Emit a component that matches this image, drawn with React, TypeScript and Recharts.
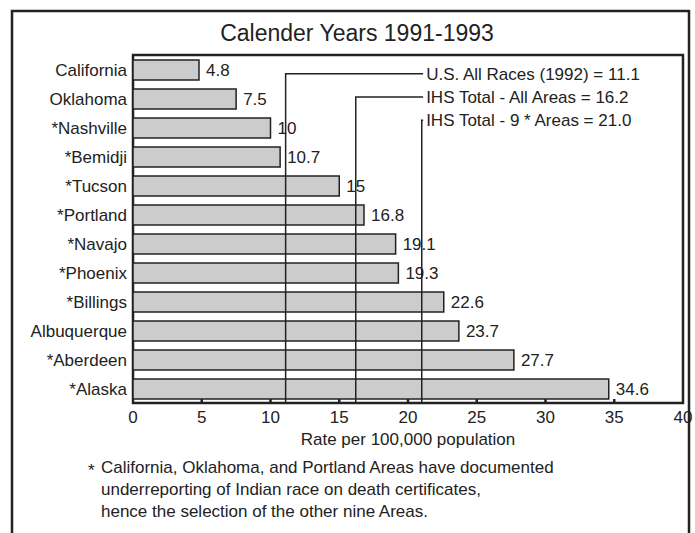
import React from 'react';
import { BarChart, Bar, XAxis, YAxis, ReferenceArea, ReferenceLine, LabelList } from 'recharts';

const areas = [
  'California', 'Oklahoma', '*Nashville', '*Bemidji', '*Tucson', '*Portland',
  '*Navajo', '*Phoenix', '*Billings', 'Albuquerque', '*Aberdeen', '*Alaska',
];
const rates = [4.8, 7.5, 10, 10.7, 15, 16.8, 19.1, 19.3, 22.6, 23.7, 27.7, 34.6];
const xTicks = [0, 5, 10, 15, 20, 25, 30, 35, 40];

// reference values and the row (from top) where each callout sits
const refLabels = ['U.S. All Races (1992) = 11.1', 'IHS Total - All Areas = 16.2', 'IHS Total - 9 * Areas = 21.0'];
const refValues = [11.1, 16.2, 21.0];
const refRows = [0.65, 1.45, 2.25];
const calloutEnd = 21.1;

const footnote = [
  'California, Oklahoma, and Portland Areas have documented',
  'underreporting of Indian race on death certificates,',
  'hence the selection of the other nine Areas.',
];

const data = areas.map((name, i) => ({ name, value: rates[i] }));

const FONT = '"Liberation Sans", Arial, Helvetica, sans-serif';
const INK = '#222';
const W = 695;
const H = 533;
const MARGIN = { top: 55, right: 12, bottom: 100, left: 0 };
const Y_AXIS_W = 133;
const X_MAX = 40;
const PLOT_W = W - MARGIN.left - MARGIN.right - Y_AXIS_W;

const XTick = (props: any) => {
  const { x, y, payload } = props;
  return (
    <g>
      {payload.value > 0 && payload.value < X_MAX && (
        <line x1={x} x2={x} y1={y} y2={y - 4} stroke={INK} strokeWidth={2.5} />
      )}
      <text x={x} y={y + 20} textAnchor="middle" fontSize={17} fill={INK} fontFamily={FONT}>
        {payload.value}
      </text>
    </g>
  );
};

const YTick = (props: any) => {
  const { y, payload } = props;
  return (
    <text x={Y_AXIS_W - 6} y={y + 6} textAnchor="end" fontSize={17} fill={INK} fontFamily={FONT}>
      {payload.value}
    </text>
  );
};

// elbow callout: vertical line up from the axis, then across to the label
const callout = (i: number) => (props: any) => {
  const { x1, y1, y2 } = props;
  const plotTop = Math.min(y1, y2);
  const plotBottom = Math.max(y1, y2);
  const top = plotTop + (refRows[i] / areas.length) * (plotBottom - plotTop);
  const endX = x1 + ((calloutEnd - refValues[i]) * PLOT_W) / X_MAX;
  return (
    <g>
      <path d={`M${x1} ${plotBottom} L${x1} ${top} L${endX} ${top}`} fill="none" stroke={INK} strokeWidth={1.5} />
      <text x={endX + 3} y={top + 6} fontSize={17} fill={INK} fontFamily={FONT}>
        {refLabels[i]}
      </text>
    </g>
  );
};

export default function App() {
  return (
    <div style={{ position: 'absolute', left: 0, top: 0, width: W, height: H, background: '#fff', fontFamily: FONT }}>
      <BarChart width={W} height={H} data={data} layout="vertical" margin={MARGIN} barSize={20}>
        <XAxis
          type="number"
          domain={[0, X_MAX]}
          ticks={xTicks}
          height={30}
          tickSize={0}
          tickMargin={0}
          tickLine={false}
          axisLine={false}
          tick={<XTick />}
        />
        <YAxis
          type="category"
          dataKey="name"
          width={Y_AXIS_W}
          tickSize={0}
          tickMargin={6}
          tickLine={false}
          axisLine={false}
          tick={<YTick />}
          interval={0}
        />
        <Bar dataKey="value" fill="#cccccc" stroke={INK} strokeWidth={1.5} isAnimationActive={false}>
          <LabelList dataKey="value" position="right" offset={7} fontSize={17} fill={INK} fontFamily={FONT} />
        </Bar>
        {refValues.map((v, i) => (
          <ReferenceLine key={i} x={v} ifOverflow="visible" shape={callout(i)} />
        ))}
        <ReferenceArea x1={0} x2={X_MAX} fill="none" stroke={INK} strokeWidth={2.5} ifOverflow="visible" />
      </BarChart>
      <svg width={W} height={H} style={{ position: 'absolute', left: 0, top: 0, pointerEvents: 'none' }}>
        <path d="M12 540 L12 11 L689 11 L689 540" fill="none" stroke={INK} strokeWidth={2.5} />
        <text x={357} y={41} textAnchor="middle" fontSize={23} fill={INK} fontFamily={FONT}>
          Calender Years 1991-1993
        </text>
        <text x={408} y={445} textAnchor="middle" fontSize={17} fill={INK} fontFamily={FONT}>
          Rate per 100,000 population
        </text>
        <text x={88} y={476} fontSize={17} fill={INK} fontFamily={FONT}>*</text>
        {footnote.map((line, i) => (
          <text key={i} x={101} y={473 + i * 22} fontSize={17} fill={INK} fontFamily={FONT}>
            {line}
          </text>
        ))}
      </svg>
    </div>
  );
}
